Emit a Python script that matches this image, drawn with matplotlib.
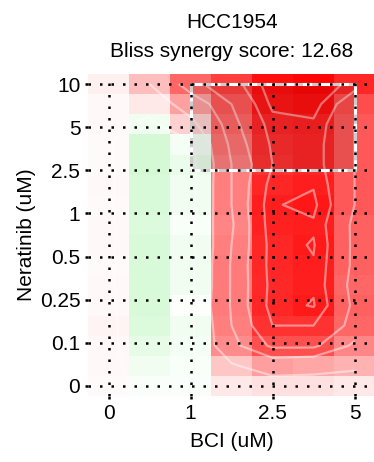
import numpy as np
import matplotlib
matplotlib.use("Agg")
import matplotlib.pyplot as plt
from matplotlib.colors import LinearSegmentedColormap
from matplotlib.patches import Rectangle

plt.rcParams['font.family'] = ['Liberation Sans', 'DejaVu Sans']
plt.rcParams['font.size'] = 15

cell_line = "HCC1954"
bliss_score = 12.68
bci_doses = ['0', '1', '2.5', '5']
neratinib_doses = ['0', '0.1', '0.25', '0.5', '1', '2.5', '5', '10']

# synergy surface as shown, rows top (10 uM) -> bottom (0 uM), cols BCI 0 -> 5
synergy = [
    [2.4, 10.0, 24.0, 30.0, 37.6, 38.8, 34.0],
    [1.2, 3.6, 14.8, 26.0, 36.4, 37.2, 28.0],
    [1.2, -2.0, 7.2, 24.0, 34.0, 34.8, 26.0],
    [0.8, -6.8, -1.6, 22.0, 32.8, 34.0, 26.0],
    [0.8, -6.8, -3.2, 20.0, 32.0, 34.0, 26.0],
    [1.2, -6.0, -2.4, 20.0, 34.0, 35.2, 26.0],
    [0.8, -6.0, -2.4, 20.0, 35.2, 36.4, 26.0],
    [1.2, -5.6, -1.2, 19.2, 34.8, 35.0, 24.8],
    [1.2, -6.0, -2.4, 20.0, 34.0, 35.8, 24.8],
    [0.8, -6.0, -2.0, 20.8, 34.0, 35.2, 24.8],
    [1.2, -6.0, -2.0, 20.8, 33.6, 35.0, 24.0],
    [1.2, -6.0, -0.4, 20.8, 34.0, 35.8, 24.8],
    [1.6, -5.6, -2.0, 20.0, 32.0, 32.0, 24.0],
    [1.2, -4.0, -1.6, 18.0, 27.2, 27.2, 18.8],
    [1.2, -2.4, -1.2, 8.8, 15.2, 14.0, 12.0],
    [0.8, -0.8, -0.8, 3.6, 4.8, 4.8, 3.6],
]
contour_levels = [0, 10, 20, 26, 32, 35.5]
# highlighted region: BCI 1-5, Neratinib 2.5-10
box_bci = ('1', '5')
box_ner = ('2.5', '10')

Z = np.flipud(np.array(synergy))
nrow, ncol = Z.shape
nx = len(bci_doses) - 1
ny = len(neratinib_doses) - 1
xc = np.linspace(0, nx, ncol)
yc = np.linspace(0, ny, nrow)
dx = xc[1] - xc[0]
dy = yc[1] - yc[0]
xe = np.concatenate([xc - dx / 2, [xc[-1] + dx / 2]])
ye = np.concatenate([yc - dy / 2, [yc[-1] + dy / 2]])

cmap = LinearSegmentedColormap.from_list('gwr', ['#00DD00', 'white', '#FF0000'])
vmax = 40

fig = plt.figure(figsize=(3.74, 4.62), dpi=100)
ax = fig.add_axes([88 / 374, 66 / 462, 287 / 374, 322 / 462])

ax.pcolormesh(xe, ye, Z, cmap=cmap, vmin=-vmax, vmax=vmax, shading='flat', zorder=0)
ax.contour(xc, yc, Z, levels=contour_levels, colors='white', alpha=0.45,
           linewidths=1.6, zorder=1)

x0 = bci_doses.index(box_bci[0]); x1 = bci_doses.index(box_bci[1])
y0 = neratinib_doses.index(box_ner[0]); y1 = neratinib_doses.index(box_ner[1])
ax.add_patch(Rectangle((x0, y0), x1 - x0, y1 - y0, facecolor='black', alpha=0.09,
                       edgecolor='none', zorder=1.5))
ax.add_patch(Rectangle((x0, y0), x1 - x0, y1 - y0, facecolor='none',
                       edgecolor='#CCCCCC', linewidth=2.2, zorder=2))
ax.add_patch(Rectangle((x0, y0), x1 - x0, y1 - y0, facecolor='none',
                       edgecolor='white', linewidth=2.2, linestyle=(0, (3, 3)), zorder=2.1))

ax.set_xlim(xe[0], xe[-1])
ax.set_ylim(ye[0], ye[-1])
ax.set_xticks(range(len(bci_doses)))
ax.set_xticklabels(bci_doses)
ax.set_yticks(range(len(neratinib_doses)))
ax.set_yticklabels(neratinib_doses)
ax.tick_params(length=2.5, width=1.8, colors='black', labelsize=15, pad=3)
for s in ax.spines.values():
    s.set_visible(False)
ax.set_axisbelow(False)
ax.grid(True, color='black', linestyle=(0, (1, 3.6)), linewidth=1.8)

ax.set_xlabel('BCI (uM)', fontsize=15, labelpad=7)
ax.set_ylabel('Neratinib (uM)', fontsize=15, labelpad=3)

fig.text(0.62, 1 - 28 / 462, cell_line, ha='center', va='baseline', fontsize=15)
fig.text(0.62, 1 - 57 / 462, 'Bliss synergy score: %.2f' % bliss_score,
         ha='center', va='baseline', fontsize=15)

fig.savefig('out.png', dpi=100)
